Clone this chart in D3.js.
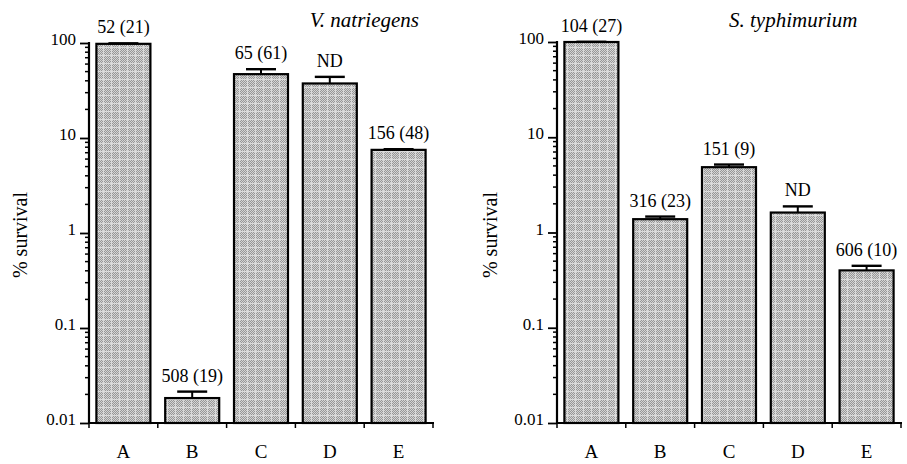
<!DOCTYPE html>
<html>
<head>
<meta charset="utf-8">
<script src="https://cdn.jsdelivr.net/npm/d3@7"></script>
<style>
  html, body { margin: 0; padding: 0; background: #fff; }
  svg { display: block; }
  text { font-family: "Liberation Serif", "Times New Roman", serif; fill: #000; }
</style>
</head>
<body>
<svg id="chart" width="907" height="464"></svg>
<script>
// ---- data ----
const categories = ["A", "B", "C", "D", "E"];
const yTickValues = [0.01, 0.1, 1, 10, 100];
const yTickLabels = ["0.01", "0.1", "1", "10", "100"];

const natriegensTitle = "V. natriegens";
const natriegensValues = [98, 0.0183, 47, 37.5, 7.5];
const natriegensErrors = [1.2, 0.0031, 6, 6.5, 0.12];
const natriegensLabels = ["52 (21)", "508 (19)", "65 (61)", "ND", "156 (48)"];

const typhimuriumTitle = "S. typhimurium";
const typhimuriumValues = [100, 1.38, 4.85, 1.62, 0.40];
const typhimuriumErrors = [0.5, 0.09, 0.32, 0.26, 0.047];
const typhimuriumLabels = ["104 (27)", "316 (23)", "151 (9)", "ND", "606 (10)"];

const yAxisTitle = "% survival";

// ---- drawing ----
const svg = d3.select("#chart");

// textured gray fill
const defs = svg.append("defs");
const pat = defs.append("pattern")
  .attr("id", "dither").attr("patternUnits", "userSpaceOnUse")
  .attr("width", 8).attr("height", 8);
pat.append("rect").attr("width", 8).attr("height", 8).attr("fill", "#979797");
for (let i = 0; i < 8; i++) {
  for (let j = 0; j < 8; j++) {
    if ((i + j) % 2 === 0) {
      pat.append("rect").attr("x", i).attr("y", j).attr("width", 1).attr("height", 1).attr("fill", "#d4d4d4");
    }
  }
}
pat.append("rect").attr("x", 0).attr("y", 7).attr("width", 8).attr("height", 1).attr("fill", "#e4e4e4").attr("opacity", 0.8);
pat.append("rect").attr("x", 7).attr("y", 0).attr("width", 1).attr("height", 8).attr("fill", "#e4e4e4").attr("opacity", 0.8);

function panel(cfg) {
  const g = svg.append("g");
  const x = d3.scaleBand().domain(categories)
    .range([cfg.x0, cfg.x1]).paddingInner(0.215).paddingOuter(0.1075);
  const y = d3.scaleLog().domain([0.01, 100]).range([cfg.yBottom, cfg.yTop]);

  const data = categories.map((c, i) => ({
    cat: c, v: cfg.values[i], e: cfg.errors[i], label: cfg.labels[i]
  }));

  // bars
  g.selectAll("rect.bar").data(data).enter().append("rect")
    .attr("class", "bar")
    .attr("x", d => x(d.cat))
    .attr("width", x.bandwidth())
    .attr("y", d => y(d.v))
    .attr("height", d => y(0.01) - y(d.v))
    .attr("fill", "url(#dither)")
    .attr("stroke", "#000").attr("stroke-width", 2.2);

  // error bars
  const capW = 30;
  g.selectAll("line.err").data(data).enter().append("line")
    .attr("x1", d => x(d.cat) + x.bandwidth() / 2)
    .attr("x2", d => x(d.cat) + x.bandwidth() / 2)
    .attr("y1", d => y(d.v))
    .attr("y2", d => y(d.v + d.e))
    .attr("stroke", "#000").attr("stroke-width", 2);
  g.selectAll("line.cap").data(data).enter().append("line")
    .attr("x1", d => x(d.cat) + x.bandwidth() / 2 - capW / 2)
    .attr("x2", d => x(d.cat) + x.bandwidth() / 2 + capW / 2)
    .attr("y1", d => y(d.v + d.e))
    .attr("y2", d => y(d.v + d.e))
    .attr("stroke", "#000").attr("stroke-width", 2.4);

  // value labels
  g.selectAll("text.val").data(data).enter().append("text")
    .attr("x", d => x(d.cat) + x.bandwidth() / 2)
    .attr("y", d => y(d.v + d.e) - 10)
    .attr("text-anchor", "middle")
    .style("font-size", "18px")
    .text(d => d.label);

  // y axis
  const yAxis = d3.axisLeft(y)
    .tickValues(yTickValues)
    .tickFormat((d, i) => yTickLabels[i])
    .tickSize(9).tickPadding(4);
  const ya = g.append("g").attr("transform", `translate(${cfg.x0},0)`).call(yAxis);
  ya.select(".domain").attr("stroke", "#000").attr("stroke-width", 2.2)
    .attr("d", `M0,${cfg.yBottom + 1}V${cfg.yTop - 1}`);
  ya.selectAll(".tick line").attr("stroke", "#000").attr("stroke-width", 1.8);
  ya.selectAll(".tick text").style("font-size", "17px")
    .attr("dy", "0.1em");
  // minor ticks
  const minor = [];
  for (let dec = 0.01; dec < 100; dec *= 10) {
    for (let k = 2; k <= 9; k++) minor.push(+(dec * k).toPrecision(3));
  }
  g.selectAll("line.minor").data(minor).enter().append("line")
    .attr("x1", cfg.x0 - 4).attr("x2", cfg.x0)
    .attr("y1", d => y(d)).attr("y2", d => y(d))
    .attr("stroke", "#000").attr("stroke-width", 1.5);

  // x axis
  const xa = g.append("g");
  xa.append("line")
    .attr("x1", cfg.x0 - 1).attr("x2", cfg.x1 + 1)
    .attr("y1", cfg.yBottom).attr("y2", cfg.yBottom)
    .attr("stroke", "#000").attr("stroke-width", 2.2);
  const bounds = categories.map(c => x(c) - x.step() * x.paddingInner() / 2).concat([cfg.x1]);
  xa.selectAll("line.xt").data(bounds).enter().append("line")
    .attr("x1", d => d).attr("x2", d => d)
    .attr("y1", cfg.yBottom).attr("y2", cfg.yBottom + 5)
    .attr("stroke", "#000").attr("stroke-width", 1.5);
  xa.selectAll("text.cat").data(categories).enter().append("text")
    .attr("x", d => x(d) + x.bandwidth() / 2)
    .attr("y", cfg.yBottom + 35)
    .attr("text-anchor", "middle")
    .style("font-size", "19px")
    .text(d => d);

  // y axis title
  g.append("text")
    .attr("transform", `translate(${cfg.yTitleX},235) rotate(-90)`)
    .attr("text-anchor", "middle")
    .style("font-size", "20px")
    .text(yAxisTitle);

  // panel title
  g.append("text")
    .attr("x", cfg.titleX).attr("y", 27)
    .attr("text-anchor", cfg.titleAnchor)
    .style("font-size", "21px").style("font-style", "italic")
    .text(cfg.title);
}

panel({
  x0: 89, x1: 433, yTop: 43, yBottom: 423,
  values: natriegensValues, errors: natriegensErrors, labels: natriegensLabels,
  title: natriegensTitle, titleX: 419, titleAnchor: "end", yTitleX: 27
});
panel({
  x0: 557, x1: 901, yTop: 42, yBottom: 423,
  values: typhimuriumValues, errors: typhimuriumErrors, labels: typhimuriumLabels,
  title: typhimuriumTitle, titleX: 729, titleAnchor: "start", yTitleX: 497
});
</script>
</body>
</html>
